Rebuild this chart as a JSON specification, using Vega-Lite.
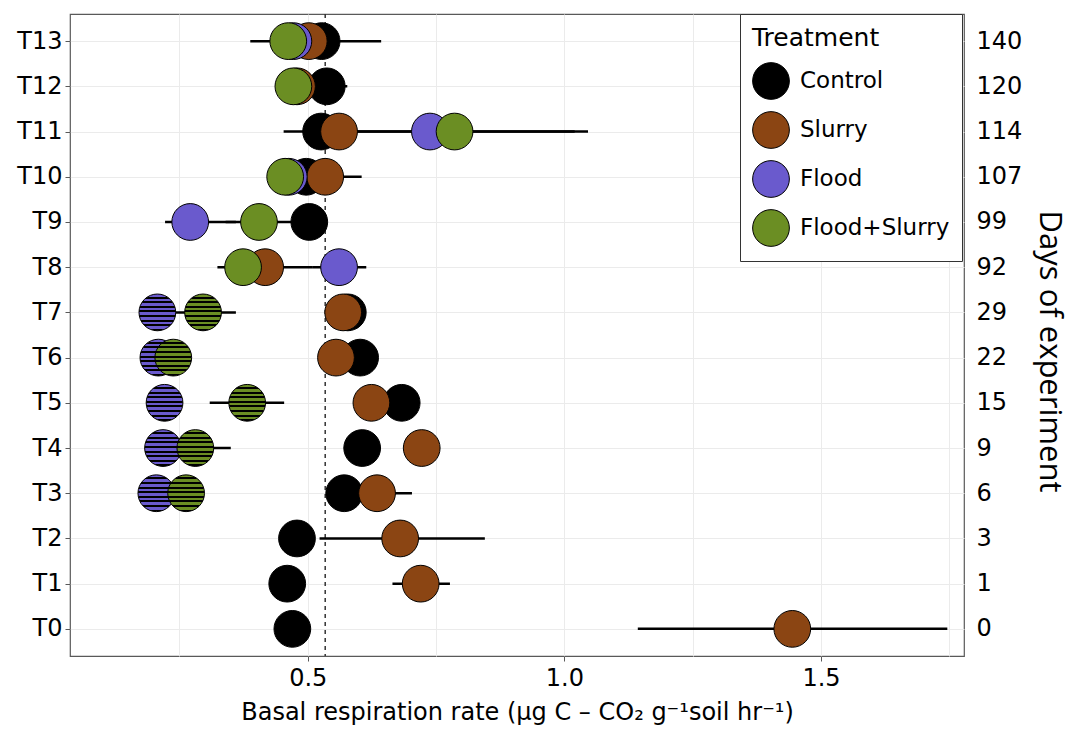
{
  "$schema": "https://vega.github.io/schema/vega-lite/v6.json",
  "width": 894,
  "height": 642,
  "autosize": {"type": "none"},
  "padding": {"left": 70, "top": 14, "right": 109, "bottom": 75},
  "background": "white",
  "config": {
    "font": "DejaVu Sans",
    "view": {"stroke": "#595959", "strokeWidth": 1.2},
    "axis": {
      "labelFont": "DejaVu Sans",
      "labelFontSize": 24,
      "labelColor": "black",
      "tickColor": "#595959",
      "gridColor": "#EBEBEB",
      "gridWidth": 1,
      "domain": false,
      "titleFontWeight": "normal",
      "titleColor": "black"
    }
  },
  "datasets": {
    "resp": [
      {"Time": "T0", "Day": 0, "Treatment": "Control", "value": 0.470},
      {"Time": "T1", "Day": 1, "Treatment": "Control", "value": 0.460},
      {"Time": "T2", "Day": 3, "Treatment": "Control", "value": 0.479},
      {"Time": "T3", "Day": 6, "Treatment": "Control", "value": 0.571},
      {"Time": "T4", "Day": 9, "Treatment": "Control", "value": 0.606},
      {"Time": "T5", "Day": 15, "Treatment": "Control", "value": 0.683},
      {"Time": "T6", "Day": 22, "Treatment": "Control", "value": 0.602},
      {"Time": "T7", "Day": 29, "Treatment": "Control", "value": 0.578},
      {"Time": "T9", "Day": 99, "Treatment": "Control", "value": 0.503},
      {"Time": "T10", "Day": 107, "Treatment": "Control", "value": 0.497},
      {"Time": "T11", "Day": 114, "Treatment": "Control", "value": 0.526},
      {"Time": "T12", "Day": 120, "Treatment": "Control", "value": 0.537, "lo": 0.497, "hi": 0.577},
      {"Time": "T13", "Day": 140, "Treatment": "Control", "value": 0.527, "lo": 0.44, "hi": 0.643},
      {"Time": "T0", "Day": 0, "Treatment": "Slurry", "value": 1.444, "lo": 1.143, "hi": 1.746},
      {"Time": "T1", "Day": 1, "Treatment": "Slurry", "value": 0.720, "lo": 0.665, "hi": 0.777},
      {"Time": "T2", "Day": 3, "Treatment": "Slurry", "value": 0.680, "lo": 0.523, "hi": 0.845},
      {"Time": "T3", "Day": 6, "Treatment": "Slurry", "value": 0.635, "lo": 0.567, "hi": 0.703},
      {"Time": "T4", "Day": 9, "Treatment": "Slurry", "value": 0.722},
      {"Time": "T5", "Day": 15, "Treatment": "Slurry", "value": 0.624},
      {"Time": "T6", "Day": 22, "Treatment": "Slurry", "value": 0.555},
      {"Time": "T7", "Day": 29, "Treatment": "Slurry", "value": 0.569},
      {"Time": "T8", "Day": 92, "Treatment": "Slurry", "value": 0.417, "lo": 0.324, "hi": 0.51},
      {"Time": "T10", "Day": 107, "Treatment": "Slurry", "value": 0.534, "lo": 0.465, "hi": 0.605},
      {"Time": "T11", "Day": 114, "Treatment": "Slurry", "value": 0.561},
      {"Time": "T12", "Day": 120, "Treatment": "Slurry", "value": 0.479},
      {"Time": "T13", "Day": 140, "Treatment": "Slurry", "value": 0.502},
      {"Time": "T3", "Day": 6, "Treatment": "Flood", "value": 0.205},
      {"Time": "T4", "Day": 9, "Treatment": "Flood", "value": 0.218},
      {"Time": "T5", "Day": 15, "Treatment": "Flood", "value": 0.221},
      {"Time": "T6", "Day": 22, "Treatment": "Flood", "value": 0.209},
      {"Time": "T7", "Day": 29, "Treatment": "Flood", "value": 0.207},
      {"Time": "T8", "Day": 92, "Treatment": "Flood", "value": 0.561, "lo": 0.51, "hi": 0.614},
      {"Time": "T9", "Day": 99, "Treatment": "Flood", "value": 0.271, "lo": 0.222, "hi": 0.36},
      {"Time": "T10", "Day": 107, "Treatment": "Flood", "value": 0.463},
      {"Time": "T11", "Day": 114, "Treatment": "Flood", "value": 0.738, "lo": 0.453, "hi": 1.02},
      {"Time": "T13", "Day": 140, "Treatment": "Flood", "value": 0.472},
      {"Time": "T3", "Day": 6, "Treatment": "Flood+Slurry", "value": 0.263},
      {"Time": "T4", "Day": 9, "Treatment": "Flood+Slurry", "value": 0.281, "lo": 0.212, "hi": 0.35},
      {"Time": "T5", "Day": 15, "Treatment": "Flood+Slurry", "value": 0.382, "lo": 0.309, "hi": 0.454},
      {"Time": "T6", "Day": 22, "Treatment": "Flood+Slurry", "value": 0.238},
      {"Time": "T7", "Day": 29, "Treatment": "Flood+Slurry", "value": 0.296, "lo": 0.232, "hi": 0.36},
      {"Time": "T8", "Day": 92, "Treatment": "Flood+Slurry", "value": 0.374},
      {"Time": "T9", "Day": 99, "Treatment": "Flood+Slurry", "value": 0.405, "lo": 0.34, "hi": 0.47},
      {"Time": "T10", "Day": 107, "Treatment": "Flood+Slurry", "value": 0.456},
      {"Time": "T11", "Day": 114, "Treatment": "Flood+Slurry", "value": 0.786, "lo": 0.53, "hi": 1.046},
      {"Time": "T12", "Day": 120, "Treatment": "Flood+Slurry", "value": 0.472},
      {"Time": "T13", "Day": 140, "Treatment": "Flood+Slurry", "value": 0.462, "lo": 0.388, "hi": 0.54}
    ],
    "reference": [{"ref": 0.534}]
  },
  "layer": [
    {
      "layer": [
        {
          "data": {"name": "reference"},
          "mark": {"type": "rule", "color": "#333333", "strokeDash": [4, 4], "strokeWidth": 1.5},
          "encoding": {
            "x": {"field": "ref", "type": "quantitative", "scale": {"domain": [0.0368, 1.7785], "nice": false, "zero": false}}
          }
        },
        {
          "data": {"name": "resp"},
          "transform": [{"filter": "isValid(datum.lo)"}],
          "mark": {"type": "rule", "color": "black", "strokeWidth": 2.5},
          "encoding": {
            "y": {"field": "Time", "type": "ordinal", "scale": {"type": "point", "padding": 0.6, "domain": ["T13","T12","T11","T10","T9","T8","T7","T6","T5","T4","T3","T2","T1","T0"]}},
            "x": {"field": "lo", "type": "quantitative", "scale": {"domain": [0.0368, 1.7785], "nice": false, "zero": false}},
            "x2": {"field": "hi"}
          }
        },
        {
          "data": {"name": "resp"},
          "mark": {"type": "circle", "size": 1350, "stroke": "black", "strokeWidth": 1, "opacity": 1},
          "encoding": {
            "y": {
              "field": "Time", "type": "ordinal",
              "scale": {"type": "point", "padding": 0.6, "domain": ["T13","T12","T11","T10","T9","T8","T7","T6","T5","T4","T3","T2","T1","T0"]},
              "axis": {"orient": "left", "title": null, "grid": true, "tickSize": 5, "labelPadding": 3, "labelFontSize": 24}
            },
            "x": {
              "field": "value", "type": "quantitative",
              "scale": {"domain": [0.0368, 1.7785], "nice": false, "zero": false},
              "axis": {
                "title": "Basal respiration rate (μg C – CO₂ g⁻¹soil hr⁻¹)",
                "values": [0.25, 0.5, 0.75, 1, 1.25, 1.5, 1.75],
                "format": ".1f",
                "labelExpr": "round(datum.value*4) % 2 == 0 ? datum.label : ''",
                "tickOpacity": {"condition": {"test": "round(datum.value*4) % 2 == 1", "value": 0}, "value": 1},
                "tickSize": 5,
                "labelPadding": 5,
                "labelFontSize": 24,
                "grid": true,
                "titleFontSize": 24,
                "titlePadding": 10
              }
            },
            "fill": {
              "field": "Treatment", "type": "nominal",
              "scale": {"domain": ["Control", "Slurry", "Flood", "Flood+Slurry"], "range": ["#000000", "#8B4513", "#6A5ACD", "#6B8E23"]},
              "condition": [
                {
                  "test": "datum.Treatment === 'Flood' && indexof(['T3','T4','T5','T6','T7'], datum.Time) >= 0",
                  "value": {"gradient": "linear", "x1": 0, "y1": 0, "x2": 0, "y2": 1, "stops": [
                    {"offset": 0, "color": "#6A5ACD"}, {"offset": 0.069, "color": "#6A5ACD"}, {"offset": 0.069, "color": "#000000"}, {"offset": 0.125, "color": "#000000"},
                    {"offset": 0.125, "color": "#6A5ACD"}, {"offset": 0.194, "color": "#6A5ACD"}, {"offset": 0.194, "color": "#000000"}, {"offset": 0.25, "color": "#000000"},
                    {"offset": 0.25, "color": "#6A5ACD"}, {"offset": 0.319, "color": "#6A5ACD"}, {"offset": 0.319, "color": "#000000"}, {"offset": 0.375, "color": "#000000"},
                    {"offset": 0.375, "color": "#6A5ACD"}, {"offset": 0.444, "color": "#6A5ACD"}, {"offset": 0.444, "color": "#000000"}, {"offset": 0.5, "color": "#000000"},
                    {"offset": 0.5, "color": "#6A5ACD"}, {"offset": 0.569, "color": "#6A5ACD"}, {"offset": 0.569, "color": "#000000"}, {"offset": 0.625, "color": "#000000"},
                    {"offset": 0.625, "color": "#6A5ACD"}, {"offset": 0.694, "color": "#6A5ACD"}, {"offset": 0.694, "color": "#000000"}, {"offset": 0.75, "color": "#000000"},
                    {"offset": 0.75, "color": "#6A5ACD"}, {"offset": 0.819, "color": "#6A5ACD"}, {"offset": 0.819, "color": "#000000"}, {"offset": 0.875, "color": "#000000"},
                    {"offset": 0.875, "color": "#6A5ACD"}, {"offset": 0.944, "color": "#6A5ACD"}, {"offset": 0.944, "color": "#000000"}, {"offset": 1, "color": "#000000"}
                  ]}
                },
                {
                  "test": "datum.Treatment === 'Flood+Slurry' && indexof(['T3','T4','T5','T6','T7'], datum.Time) >= 0",
                  "value": {"gradient": "linear", "x1": 0, "y1": 0, "x2": 0, "y2": 1, "stops": [
                    {"offset": 0, "color": "#6B8E23"}, {"offset": 0.069, "color": "#6B8E23"}, {"offset": 0.069, "color": "#000000"}, {"offset": 0.125, "color": "#000000"},
                    {"offset": 0.125, "color": "#6B8E23"}, {"offset": 0.194, "color": "#6B8E23"}, {"offset": 0.194, "color": "#000000"}, {"offset": 0.25, "color": "#000000"},
                    {"offset": 0.25, "color": "#6B8E23"}, {"offset": 0.319, "color": "#6B8E23"}, {"offset": 0.319, "color": "#000000"}, {"offset": 0.375, "color": "#000000"},
                    {"offset": 0.375, "color": "#6B8E23"}, {"offset": 0.444, "color": "#6B8E23"}, {"offset": 0.444, "color": "#000000"}, {"offset": 0.5, "color": "#000000"},
                    {"offset": 0.5, "color": "#6B8E23"}, {"offset": 0.569, "color": "#6B8E23"}, {"offset": 0.569, "color": "#000000"}, {"offset": 0.625, "color": "#000000"},
                    {"offset": 0.625, "color": "#6B8E23"}, {"offset": 0.694, "color": "#6B8E23"}, {"offset": 0.694, "color": "#000000"}, {"offset": 0.75, "color": "#000000"},
                    {"offset": 0.75, "color": "#6B8E23"}, {"offset": 0.819, "color": "#6B8E23"}, {"offset": 0.819, "color": "#000000"}, {"offset": 0.875, "color": "#000000"},
                    {"offset": 0.875, "color": "#6B8E23"}, {"offset": 0.944, "color": "#6B8E23"}, {"offset": 0.944, "color": "#000000"}, {"offset": 1, "color": "#000000"}
                  ]}
                }
              ],
              "legend": {
                "title": "Treatment",
                "orient": "none",
                "legendX": 670,
                "legendY": 0,
                "direction": "vertical",
                "padding": 12,
                "strokeColor": "#333333",
                "fillColor": "white",
                "titleFontSize": 25,
                "titleFontWeight": "normal",
                "titleColor": "black",
                "titlePadding": 11,
                "labelFontSize": 23,
                "labelColor": "black",
                "labelOffset": 10,
                "symbolSize": 1350,
                "symbolType": "circle",
                "symbolStrokeColor": "black",
                "symbolStrokeWidth": 1,
                "symbolOpacity": 1,
                "rowPadding": 7
              }
            }
          }
        }
      ]
    },
    {
      "data": {"name": "resp"},
      "mark": {"type": "point", "opacity": 0},
      "encoding": {
        "y": {
          "field": "Day", "type": "ordinal", "sort": "descending",
          "scale": {"type": "point", "padding": 0.6},
          "axis": {
            "orient": "right", "title": "Days of experiment", "ticks": false, "grid": false,
            "labelPadding": 12, "labelAlign": "left", "labelFontSize": 24,
            "titleFont": "Open Sans", "titleFontSize": 31, "titleFontWeight": "normal",
            "titlePadding": 11, "titleY": 337
          }
        },
        "x": {"field": "value", "type": "quantitative", "scale": {"domain": [0.0368, 1.7785], "nice": false, "zero": false}}
      }
    }
  ],
  "resolve": {"scale": {"y": "independent"}}
}
